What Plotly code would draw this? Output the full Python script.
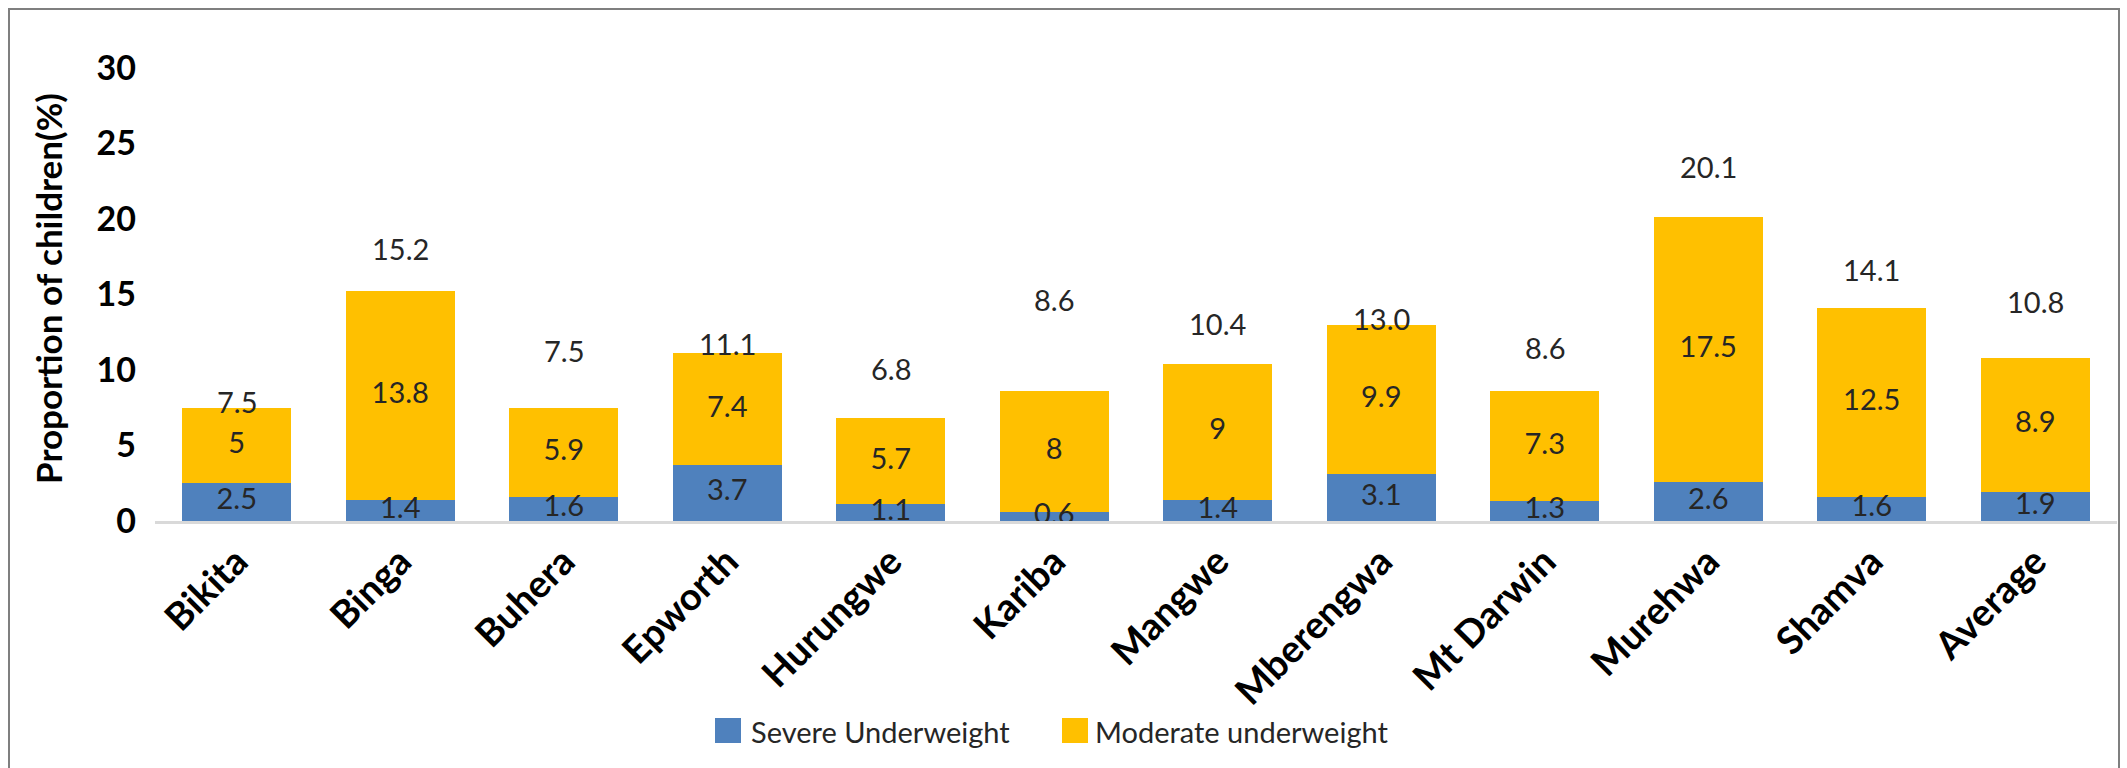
import plotly.graph_objects as go

# Districts and underweight prevalence (%)
districts = ["Bikita", "Binga", "Buhera", "Epworth", "Hurungwe", "Kariba",
             "Mangwe", "Mberengwa", "Mt Darwin", "Murehwa", "Shamva", "Average"]
severe = [2.5, 1.4, 1.6, 3.7, 1.1, 0.6, 1.4, 3.1, 1.3, 2.6, 1.6, 1.9]
moderate = [5, 13.8, 5.9, 7.4, 5.7, 8, 9, 9.9, 7.3, 17.5, 12.5, 8.9]
series_names = ["Severe Underweight", "Moderate underweight"]
y_ticks = [0, 5, 10, 15, 20, 25, 30]

# pixel lift of each total label above its bar
total_label_lift = [6, 43, 57, 10, 50, 92, 40, 6, 44, 51, 39, 56]

BLUE = "#4F81BD"
GOLD = "#FFC000"
FONT = "Lato, Calibri, Carlito, sans-serif"
LABEL_COLOR = "#262626"

W, H = 2127, 768
L, R, T, B = 155, 10, 68, 247
plot_w = W - L - R
plot_h = H - T - B


def px_to_paper_x(px):
    return (px - L) / plot_w


def px_to_paper_y(py):
    return (H - B - py) / plot_h


totals = [round(s + m, 1) for s, m in zip(severe, moderate)]

fig = go.Figure()
fig.add_trace(go.Bar(x=districts, y=severe, name=series_names[0],
                     marker=dict(color=BLUE, line=dict(width=0)),
                     showlegend=False, hoverinfo="skip"))
fig.add_trace(go.Bar(x=districts, y=moderate, name=series_names[1],
                     marker=dict(color=GOLD, line=dict(width=0)),
                     showlegend=False, hoverinfo="skip"))

# value labels centred in each segment
fig.add_trace(go.Scatter(
    x=districts, y=[s / 2 for s in severe], mode="text",
    text=[f"{v:g}" for v in severe], textposition="middle center",
    textfont=dict(family=FONT, size=29, color=LABEL_COLOR),
    showlegend=False, hoverinfo="skip", cliponaxis=False))
fig.add_trace(go.Scatter(
    x=districts, y=[s + m / 2 for s, m in zip(severe, moderate)], mode="text",
    text=[f"{v:g}" for v in moderate], textposition="middle center",
    textfont=dict(family=FONT, size=29, color=LABEL_COLOR),
    showlegend=False, hoverinfo="skip", cliponaxis=False))

# totals above the stacks
for d, tot, lift in zip(districts, totals, total_label_lift):
    fig.add_annotation(x=d, y=tot, yshift=lift, text=f"{tot:.1f}",
                       showarrow=False, xanchor="center", yanchor="middle",
                       font=dict(family=FONT, size=29, color=LABEL_COLOR))

# y-axis title
fig.add_annotation(x=px_to_paper_x(48), y=px_to_paper_y(289), xref="paper", yref="paper",
                   text="<b>Proportion of children(%)</b>", textangle=-90,
                   showarrow=False, xanchor="center", yanchor="middle",
                   font=dict(family=FONT, size=35, color="#000000"))

# legend
legend_items = [
    (715, 741, BLUE, 749, series_names[0]),
    (1062, 1088, GOLD, 1093, series_names[1]),
]
for x0, x1, col, tx, name in legend_items:
    fig.add_shape(type="rect", xref="paper", yref="paper",
                  x0=px_to_paper_x(x0), x1=px_to_paper_x(x1),
                  y0=px_to_paper_y(743), y1=px_to_paper_y(718),
                  fillcolor=col, line=dict(width=0))
    fig.add_annotation(x=px_to_paper_x(tx), y=px_to_paper_y(731), xref="paper", yref="paper",
                       text=name, showarrow=False, xanchor="left", yanchor="middle",
                       font=dict(family=FONT, size=29, color=LABEL_COLOR))

# chart frame
fig.add_shape(type="rect", xref="paper", yref="paper",
              x0=px_to_paper_x(9), x1=px_to_paper_x(2119),
              y0=px_to_paper_y(800), y1=px_to_paper_y(9),
              line=dict(color="#7F7F7F", width=2), fillcolor="rgba(0,0,0,0)",
              layer="below")

fig.update_layout(
    width=W, height=H,
    margin=dict(l=L, r=R, t=T, b=B, pad=0),
    barmode="stack", bargap=0.333,
    paper_bgcolor="white", plot_bgcolor="white",
    showlegend=False,
    font=dict(family=FONT, color="#000000"),
)
fig.update_xaxes(
    range=[-0.5, len(districts) - 0.5], autorange=False,
    showline=True, linecolor="#D9D9D9", linewidth=3,
    showgrid=False, zeroline=False, ticks="",
    tickangle=-45,
    tickfont=dict(family=FONT, size=38, color="#000000", weight="bold"),
)
fig.update_yaxes(
    range=[0, 30], tickvals=y_ticks, ticktext=[str(v) for v in y_ticks],
    showgrid=False, zeroline=False, showline=False, ticks="",
    ticklabelstandoff=18,
    tickfont=dict(family=FONT, size=34, color="#000000", weight="bold"),
)

fig.write_html("out.html")
